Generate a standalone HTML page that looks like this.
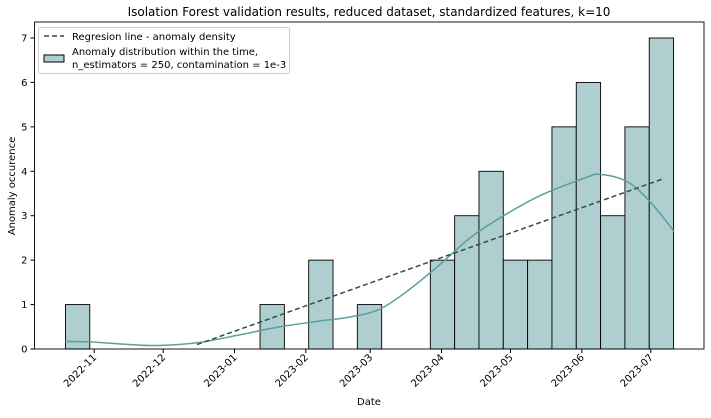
<!DOCTYPE html>
<html><head><meta charset="utf-8"><style>
body{margin:0;background:#fff;font-family:"DejaVu Sans","Liberation Sans",sans-serif}
svg text{font-family:"DejaVu Sans","Liberation Sans",sans-serif;fill:#000}
</style></head><body>
<svg id="c" width="711" height="414" xmlns="http://www.w3.org/2000/svg"></svg>
<script>
// data
const binCounts=[1,0,0,0,0,0,0,0,1,0,2,0,1,0,0,2,3,4,2,2,5,6,3,5,7];
const binStartDay=-12.5, binEndDay=251.9; // days relative to 2022-11-01
const tickLabels=["2022-11","2022-12","2023-01","2023-02","2023-03","2023-04","2023-05","2023-06","2023-07"];
const tickDays=[0,30,61,92,120,151,181,212,242];
const yTicks=[0,1,2,3,4,5,6,7];
const kdeDays=[-12.7,-1.8,15.6,28.6,46,63.4,80.8,98.2,111.2,124.3,137.3,150.3,163.4,176.4,193.8,213.4,219.9,231.6,241.6,252.1];
const kdeVals=[0.17,0.16,0.1,0.08,0.15,0.32,0.5,0.63,0.72,0.9,1.35,1.9,2.5,2.95,3.45,3.85,3.93,3.77,3.32,2.65];
const regDays=[44.7,247.3];
const regVals=[0.1,3.83];

const L=34.5,R=704,T=22,B=349;
const X=d=>94.2+d*2.30;
const Y=v=>B-v*(B-38)/7;
const s=document.getElementById('c');
const NS="http://www.w3.org/2000/svg";
function mk(t,a,p){const e=document.createElementNS(NS,t);for(const k in a)e.setAttribute(k,a[k]);(p||s).appendChild(e);return e;}

let e;
e=mk('text',{x:369,y:16,'text-anchor':'middle','font-size':12});e.textContent="Isolation Forest validation results, reduced dataset, standardized features, k=10";



const bw=(binEndDay-binStartDay)/binCounts.length;
binCounts.forEach((c,i)=>{if(!c)return;
 const x0=X(binStartDay+i*bw),x1=X(binStartDay+(i+1)*bw);
 const r=mk('rect',{x:x0,y:Y(c),width:x1-x0,height:Y(0)-Y(c),fill:'#afcecf',stroke:'#000','stroke-width':0.9});
 
 
});

const P=kdeDays.map((k,i)=>[X(k),Y(kdeVals[i])]);
let d='M'+P[0][0]+','+P[0][1];
for(let i=0;i<P.length-1;i++){
 const p0=P[Math.max(0,i-1)],p1=P[i],p2=P[i+1],p3=P[Math.min(P.length-1,i+2)];
 const c1=[p1[0]+(p2[0]-p0[0])/6,p1[1]+(p2[1]-p0[1])/6];
 const c2=[p2[0]-(p3[0]-p1[0])/6,p2[1]-(p3[1]-p1[1])/6];
 d+=`C${c1[0]},${c1[1]} ${c2[0]},${c2[1]} ${p2[0]},${p2[1]}`;
}
e=mk('path',{d:d,fill:'none',stroke:'#5a9e9e','stroke-width':1.5});



e=mk('line',{x1:X(regDays[0]),y1:Y(regVals[0]),x2:X(regDays[1]),y2:Y(regVals[1]),stroke:'#2f4f4a','stroke-width':1.5,'stroke-dasharray':'5,3'});



e=mk('rect',{x:L,y:T,width:R-L,height:B-T,fill:'none',stroke:'#000','stroke-width':0.9});



yTicks.forEach(v=>{mk('line',{x1:L-4,x2:L,y1:Y(v),y2:Y(v),stroke:'#000'});
 const t=mk('text',{x:L-7,y:Y(v)+3.5,'text-anchor':'end','font-size':10});t.textContent=v;
 
 });
tickDays.forEach((dd,i)=>{const x=X(dd);mk('line',{x1:x,x2:x,y1:B,y2:B+4,stroke:'#000'});
 const t=mk('text',{x:x+3,y:B+9,'text-anchor':'end','font-size':10,transform:`rotate(-45 ${x+3} ${B+9})`});t.textContent=tickLabels[i];
 
 });

e=mk('text',{x:369,y:405,'text-anchor':'middle','font-size':10});e.textContent="Date";


e=mk('text',{x:15,y:186,'text-anchor':'middle','font-size':10,transform:'rotate(-90 15 186)'});e.textContent="Anomaly occurence";



const g=mk('g',{});


mk('rect',{x:38.5,y:27.5,width:251,height:46,rx:2,fill:'#fff',stroke:'#ccc'},g);
mk('line',{x1:44,x2:64,y1:36,y2:36,stroke:'#2f4f4a','stroke-width':1.5,'stroke-dasharray':'5,3'},g);
e=mk('text',{x:72,y:40,'font-size':10},g);e.textContent="Regresion line - anomaly density";
mk('rect',{x:44,y:55,width:20,height:7,fill:'#afcecf',stroke:'#000'},g);
e=mk('text',{x:72,y:55,'font-size':10},g);e.textContent="Anomaly distribution within the time,";
e=mk('text',{x:72,y:68,'font-size':10},g);e.textContent="n_estimators = 250, contamination = 1e-3";
</script>
</body></html>
